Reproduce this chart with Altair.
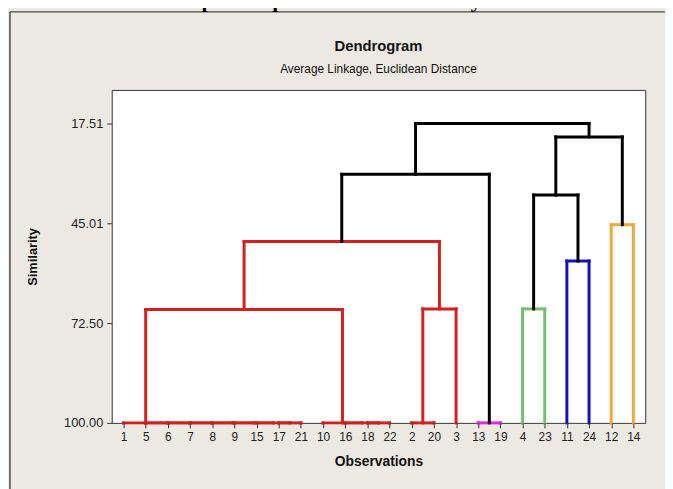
import altair as alt
import pandas as pd

# ---- data ----
leaves = ["1", "5", "6", "7", "8", "9", "15", "17", "21", "10", "16", "18",
          "22", "2", "20", "3", "13", "19", "4", "23", "11", "24", "12", "14"]

merge_name = ["a1", "a2", "a3", "a4", "a5", "a6", "a7", "A",
              "b1", "b2", "B", "AB", "C", "C3", "R", "D", "RD",
              "E", "F", "EF", "G", "EFG", "ALL"]
merge_left = ["17", "15", "9", "8", "7", "6", "5", "1",
              "18", "16", "10", "A", "2", "C", "AB", "13", "R",
              "4", "11", "E", "12", "EF", "RD"]
merge_right = ["21", "a1", "a2", "a3", "a4", "a5", "a6", "a7",
               "22", "b1", "b2", "B", "20", "3", "C3", "19", "D",
               "23", "24", "F", "14", "G", "EFG"]
merge_similarity = [100, 100, 100, 100, 100, 100, 100, 100,
                    100, 100, 100, 68.75, 100, 68.6, 50.0, 100, 31.5,
                    68.6, 55.4, 37.2, 45.4, 21.2, 17.51]
merge_color = ["red"] * 15 + ["magenta", "black", "green", "blue", "black",
                              "orange", "black", "black"]

palette = {"red": "#D61E1E", "magenta": "#E02AE0", "green": "#72C072",
           "blue": "#1212BE", "orange": "#F2A838", "black": "#000000"}

y_ticks = [17.51, 45.01, 72.50, 100.00]

title_text = "amplicons pattern with AluI enzyme"
chart_title = "Dendrogram"
chart_subtitle = "Average Linkage, Euclidean Distance"

# ---- build dendrogram segments from the merge list ----
pos = {name: i for i, name in enumerate(leaves)}
lev = {name: 100.0 for name in leaves}
rows = []
for n, l, r, s, c in zip(merge_name, merge_left, merge_right,
                         merge_similarity, merge_color):
    col = palette[c]
    xl, xr = pos[l], pos[r]
    rows.append(dict(x=xl, x2=xr, y=s, y2=s, c=col))
    rows.append(dict(x=xl, x2=xl, y=lev[l], y2=s, c=col))
    rows.append(dict(x=xr, x2=xr, y=lev[r], y2=s, c=col))
    pos[n] = (xl + xr) / 2
    lev[n] = s
seg = pd.DataFrame(rows)

W, H = 540, 337
FONT = "Liberation Sans"

label_arr = "[" + ",".join("'%s'" % v for v in leaves) + "]"

xscale = alt.Scale(domain=[-0.535, 23.535], nice=False, zero=False)
yscale = alt.Scale(domain=[8.26, 100], reverse=True, nice=False, zero=False)

lines = alt.Chart(seg).mark_rule(strokeWidth=3, strokeCap="square").encode(
    x=alt.X("x:Q", scale=xscale,
            axis=alt.Axis(values=list(range(len(leaves))),
                          labelExpr=label_arr + "[datum.value]",
                          title="Observations", titleFont=FONT,
                          titleFontSize=14, titleFontWeight="bold",
                          titleColor="#111", titleX=W / 2, titleY=39,
                          titleBaseline="middle",
                          labelFont=FONT, labelFontSize=12,
                          labelColor="#222", labelPadding=4,
                          labelOverlap=False, labelFlush=False,
                          tickSize=5, tickColor="#333", domain=False,
                          grid=False, zindex=1)),
    x2="x2:Q",
    y=alt.Y("y:Q", scale=yscale,
            axis=alt.Axis(values=y_ticks, format=".2f",
                          title="Similarity", titleFont=FONT,
                          titleFontSize=13, titleFontWeight="bold",
                          titleColor="#111", titleX=-80, titleY=H / 2,
                          titleAngle=270, titleBaseline="middle",
                          titleAlign="center",
                          labelFont=FONT, labelFontSize=13,
                          labelColor="#222", labelPadding=4,
                          labelFlush=False, tickSize=5, tickColor="#333",
                          domain=False, grid=False, zindex=1)),
    y2="y2:Q",
    color=alt.Color("c:N", scale=None),
)

# Minitab-style panel border (decoration)
border_left = alt.Chart().mark_rule(color="#4a4a4a", strokeWidth=1.5).encode(
    x=alt.value(-103), y=alt.value(-79), y2=alt.value(H + 80))
border_top = alt.Chart().mark_rule(color="#4a4a4a", strokeWidth=1.5).encode(
    x=alt.value(-103), x2=alt.value(W + 30), y=alt.value(-79))

t1 = alt.Chart().mark_text(font=FONT, fontSize=15, fontWeight="bold",
                            color="#111", baseline="middle",
                            align="center").encode(
    x=alt.value(W / 2), y=alt.value(-44), text=alt.value(chart_title))
t2 = alt.Chart().mark_text(font=FONT, fontSize=12, color="#111",
                            baseline="middle", align="center").encode(
    x=alt.value(W / 2), y=alt.value(-21), text=alt.value(chart_subtitle))
t0 = alt.Chart().mark_text(font="Liberation Serif", fontSize=22,
                            fontWeight="bold", color="#000",
                            baseline="alphabetic", align="center").encode(
    x=alt.value(232), y=alt.value(-84), text=alt.value(title_text))

chart = alt.layer(border_left, border_top, t0, t1, t2, lines).properties(
    width=W, height=H,
    autosize=alt.AutoSizeParams(type="none"),
    padding={"left": 105, "top": 80, "right": 20, "bottom": 64},
    background="#ECE9E2",
).configure_view(fill="white", stroke="#333", strokeWidth=1)

chart.save("out.html", embed_options={"renderer": "svg", "actions": False})
